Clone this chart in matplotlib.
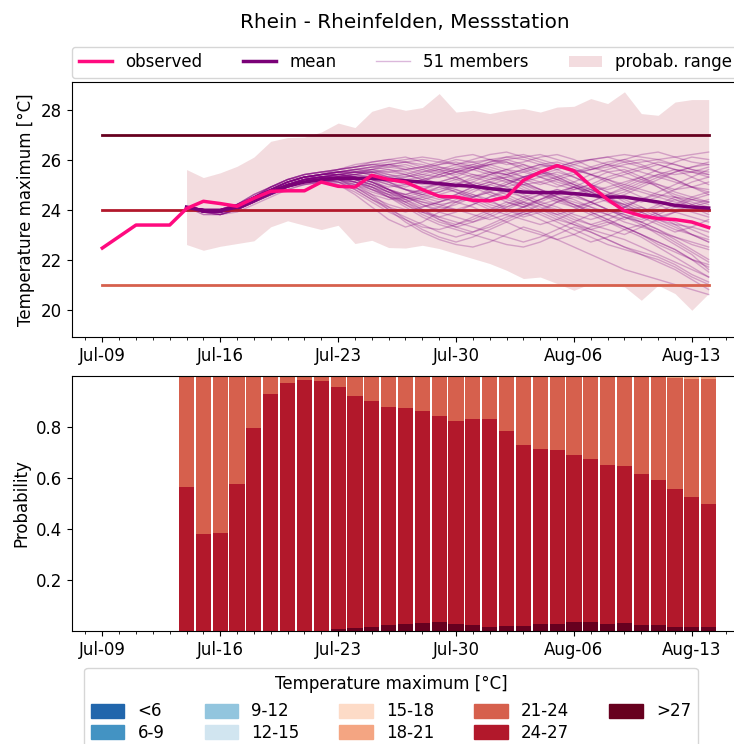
import numpy as np
import matplotlib
matplotlib.use('Agg')
import matplotlib.pyplot as plt
import matplotlib.dates as mdates
from matplotlib.patches import Patch

plt.rcParams['font.size'] = 12

title = 'Rhein - Rheinfelden, Messstation'

obs_start = np.datetime64('2022-07-09')
fc_start = np.datetime64('2022-07-14')

observed = [22.46, 22.92, 23.38, 23.38, 23.38, 24.04, 24.33, 24.24, 24.13, 24.45,
            24.73, 24.75, 24.75, 25.10, 24.93, 24.90, 25.37, 25.20, 25.10, 24.80,
            24.53, 24.50, 24.37, 24.35, 24.50, 25.17, 25.50, 25.76, 25.55, 24.95,
            24.40, 23.95, 23.75, 23.64, 23.60, 23.50, 23.28]

mean = [24.10, 23.95, 23.95, 24.10, 24.40, 24.70, 24.95, 25.10, 25.20, 25.25,
        25.25, 25.25, 25.20, 25.15, 25.10, 25.04, 24.97, 24.93, 24.84, 24.77,
        24.70, 24.68, 24.68, 24.64, 24.57, 24.50, 24.50, 24.40, 24.30, 24.17,
        24.10, 24.06]

range_hi = [25.60, 25.28, 25.47, 25.73, 26.10, 26.73, 26.88, 26.90, 27.10, 27.46,
            27.28, 27.93, 28.13, 27.97, 28.08, 28.64, 27.90, 27.97, 27.84, 27.97,
            28.04, 27.90, 28.10, 28.13, 28.44, 28.24, 28.71, 27.84, 27.77, 28.30,
            28.40, 28.40]
range_lo = [22.60, 22.37, 22.53, 22.64, 22.75, 23.31, 23.55, 23.37, 23.20, 23.37,
            22.64, 22.77, 22.48, 22.46, 22.57, 22.44, 22.24, 22.04, 21.84, 21.57,
            21.24, 21.30, 21.04, 20.77, 21.04, 20.97, 20.91, 20.37, 20.97, 20.64,
            19.97, 20.64]

# 51 ensemble members, Jul-14 .. Aug-14
members_txt = """
24.1 23.9 23.9 24.1 24.5 24.8 25.1 25.3 25.4 25.5 25.6 25.7 25.8 25.9 26.0 25.9 25.8 25.9 26.0 26.1 26.0 25.8 25.7 25.9 26.0 26.1 26.2 26.1 26.0 26.1 26.2 26.3
24.1 24.0 23.9 24.0 24.3 24.7 25.0 25.2 25.3 25.4 25.3 25.2 25.1 24.8 24.6 24.7 25.0 25.3 25.5 25.4 25.1 24.8 24.6 24.9 25.2 25.5 25.6 25.3 24.9 24.5 24.2 24.0
24.1 23.9 23.8 24.0 24.4 24.7 24.9 25.1 25.2 25.0 24.6 24.1 23.6 23.3 23.5 23.9 24.3 24.6 24.4 24.0 23.7 23.9 24.3 24.6 24.8 24.5 24.1 23.8 23.5 23.2 23.0 22.8
24.1 24.0 24.0 24.2 24.5 24.8 25.1 25.3 25.4 25.5 25.5 25.6 25.4 25.2 25.0 25.1 25.3 25.6 25.8 25.9 25.7 25.4 25.2 25.0 24.7 24.4 24.6 24.9 25.2 25.5 25.7 25.9
24.1 23.9 23.9 24.1 24.4 24.6 24.9 25.0 25.1 25.2 25.2 25.0 24.7 24.3 23.9 23.6 23.4 23.6 23.9 24.2 24.5 24.7 24.5 24.2 23.9 23.6 23.3 23.0 22.6 22.3 22.0 21.8
24.1 24.0 24.0 24.2 24.6 24.9 25.2 25.4 25.5 25.6 25.7 25.8 25.7 25.6 25.7 25.9 26.1 26.2 26.0 25.8 25.9 26.1 26.2 26.0 25.7 25.5 25.3 25.1 25.0 24.8 24.9 25.1
24.1 23.8 23.8 24.0 24.3 24.6 24.9 25.1 25.2 25.3 25.1 24.8 24.5 24.4 24.6 24.9 25.1 24.9 24.6 24.3 24.1 24.3 24.6 24.8 25.0 24.7 24.3 24.0 23.7 23.9 24.2 24.4
24.1 24.0 23.9 24.1 24.5 24.8 25.0 25.2 25.3 25.3 25.4 25.5 25.6 25.5 25.3 25.0 24.7 24.5 24.7 25.0 25.3 25.5 25.4 25.1 24.8 24.5 24.2 23.9 23.6 23.4 23.3 23.1
24.1 23.9 23.9 24.1 24.4 24.8 25.1 25.3 25.4 25.4 25.3 25.1 24.9 25.0 25.2 25.4 25.6 25.7 25.5 25.2 24.9 24.6 24.3 24.1 24.3 24.6 24.9 25.2 25.4 25.6 25.5 25.3
24.1 24.0 24.0 24.1 24.4 24.7 25.0 25.2 25.2 25.1 24.8 24.4 24.0 23.7 23.4 23.1 22.9 23.1 23.4 23.7 23.9 23.6 23.3 23.0 22.7 22.9 23.2 23.4 23.1 22.7 22.3 21.9
24.1 23.9 23.9 24.0 24.3 24.6 24.9 25.1 25.3 25.4 25.5 25.4 25.2 25.3 25.5 25.7 25.6 25.4 25.2 25.3 25.5 25.7 25.8 25.6 25.4 25.2 24.9 24.7 24.5 24.3 24.1 24.0
24.1 24.0 23.9 24.1 24.5 24.9 25.2 25.4 25.5 25.5 25.4 25.2 24.8 24.5 24.3 24.1 24.0 24.2 24.5 24.8 25.0 24.8 24.5 24.2 24.0 23.8 23.6 23.9 24.2 24.5 24.3 24.1
24.1 23.9 23.8 23.9 24.2 24.5 24.8 25.0 25.1 25.2 25.1 24.9 24.6 24.2 23.8 23.5 23.3 23.5 23.8 24.1 24.4 24.6 24.8 24.6 24.3 24.0 23.7 23.4 23.0 22.6 22.2 21.6
24.1 24.0 24.0 24.2 24.6 24.9 25.1 25.3 25.4 25.6 25.7 25.9 26.0 26.1 25.9 25.7 25.5 25.6 25.8 26.0 26.1 26.2 26.0 25.8 25.6 25.7 25.9 26.0 25.8 25.6 25.5 25.4
24.1 23.9 23.9 24.1 24.4 24.7 25.0 25.2 25.3 25.3 25.2 25.0 24.7 24.6 24.8 25.0 24.8 24.5 24.2 24.0 23.8 24.0 24.3 24.5 24.3 24.0 23.7 23.5 23.8 24.1 24.4 24.6
24.1 24.0 23.9 24.0 24.3 24.7 25.0 25.2 25.3 25.4 25.5 25.5 25.3 25.1 24.8 24.5 24.3 24.1 23.8 23.5 23.2 23.0 22.8 23.0 23.3 23.5 23.3 23.0 22.7 22.4 22.0 21.5
24.1 23.9 23.9 24.1 24.5 24.8 25.0 25.2 25.3 25.3 25.4 25.6 25.8 25.9 25.8 25.6 25.3 25.0 24.8 25.0 25.3 25.5 25.7 25.9 26.0 25.8 25.5 25.2 24.9 24.6 24.4 24.2
24.1 24.0 24.0 24.2 24.5 24.8 25.1 25.3 25.3 25.2 24.9 24.5 24.2 24.0 23.9 24.1 24.4 24.7 25.0 25.2 25.0 24.7 24.4 24.1 23.8 23.5 23.2 22.9 22.5 22.1 21.7 21.3
24.1 23.9 23.9 24.0 24.3 24.6 24.9 25.1 25.2 25.3 25.3 25.2 25.0 24.8 24.7 24.8 25.0 25.2 25.4 25.6 25.5 25.3 25.1 24.9 24.7 24.9 25.1 25.3 25.0 24.7 24.5 24.3
24.1 24.0 23.9 24.1 24.4 24.8 25.1 25.3 25.4 25.5 25.6 25.7 25.6 25.4 25.2 25.3 25.5 25.7 25.9 26.0 25.8 25.5 25.2 24.9 24.6 24.4 24.2 24.4 24.7 25.0 25.3 25.6
24.1 23.8 23.8 24.0 24.3 24.6 24.8 25.0 25.1 25.0 24.7 24.3 23.9 23.6 23.3 23.2 23.4 23.7 24.0 24.3 24.1 23.8 23.5 23.2 22.9 22.6 22.4 22.2 22.0 21.7 21.3 21.0
24.1 24.0 24.0 24.2 24.5 24.8 25.1 25.2 25.3 25.4 25.4 25.3 25.1 24.9 25.1 25.4 25.6 25.8 26.0 25.9 25.6 25.3 25.0 24.8 25.0 25.3 25.5 25.7 25.9 25.8 25.6 25.5
24.1 23.9 23.9 24.1 24.4 24.7 25.0 25.2 25.2 25.1 24.9 24.6 24.4 24.5 24.7 24.9 24.7 24.4 24.1 23.9 24.1 24.4 24.7 24.9 24.6 24.3 24.0 23.7 23.4 23.1 23.3 23.6
24.1 24.0 23.9 24.1 24.5 24.9 25.2 25.4 25.5 25.6 25.7 25.8 25.9 26.0 26.1 26.0 25.8 25.6 25.4 25.2 25.0 25.1 25.3 25.5 25.7 25.9 26.0 25.8 25.5 25.2 24.9 24.7
24.1 23.9 23.8 24.0 24.3 24.6 24.9 25.1 25.2 25.2 25.1 24.9 24.6 24.3 24.0 23.7 23.5 23.3 23.1 22.9 22.7 22.9 23.2 23.5 23.8 24.0 23.8 23.5 23.2 22.9 22.6 22.4
24.1 24.0 24.0 24.1 24.4 24.7 25.0 25.2 25.3 25.4 25.5 25.6 25.7 25.8 25.6 25.4 25.2 25.0 25.2 25.4 25.6 25.8 25.9 25.7 25.4 25.1 24.8 24.5 24.3 24.1 23.9 23.7
24.1 23.9 23.9 24.1 24.4 24.7 24.9 25.1 25.2 25.3 25.3 25.1 24.8 24.5 24.2 24.0 24.2 24.5 24.8 25.1 25.3 25.5 25.3 25.0 24.7 24.5 24.7 25.0 25.3 25.5 25.7 25.8
24.1 24.0 23.9 24.0 24.3 24.6 24.9 25.1 25.2 25.2 25.0 24.6 24.1 23.6 23.2 22.9 22.7 22.9 23.2 23.5 23.8 24.0 23.7 23.4 23.1 22.8 22.5 22.2 21.9 21.6 21.2 20.8
24.1 23.9 23.9 24.1 24.5 24.8 25.1 25.3 25.4 25.5 25.5 25.4 25.2 25.0 24.9 25.0 25.2 25.4 25.3 25.1 24.8 24.6 24.4 24.6 24.9 25.2 25.4 25.6 25.8 25.6 25.3 25.0
24.1 24.0 24.0 24.2 24.5 24.8 25.0 25.2 25.3 25.3 25.2 25.0 24.8 24.6 24.4 24.2 24.0 23.8 23.6 23.8 24.1 24.4 24.6 24.4 24.1 23.8 23.5 23.3 23.1 22.9 22.7 22.5
24.1 23.9 23.9 24.1 24.5 24.9 25.2 25.4 25.5 25.6 25.7 25.8 25.8 25.7 25.5 25.6 25.8 26.0 26.2 26.3 26.1 25.9 25.7 25.5 25.6 25.8 26.0 26.2 26.3 26.1 25.9 25.8
24.1 24.0 23.9 24.1 24.4 24.7 25.0 25.1 25.2 25.2 25.0 24.7 24.5 24.3 24.5 24.7 24.9 25.1 24.9 24.6 24.3 24.0 23.8 24.0 24.3 24.6 24.4 24.1 23.8 23.5 23.2 22.9
24.1 23.9 23.9 24.0 24.3 24.6 24.9 25.1 25.2 25.3 25.4 25.3 25.1 24.8 24.5 24.3 24.5 24.8 25.0 24.8 24.5 24.2 24.0 23.7 23.4 23.2 23.0 23.3 23.6 23.9 24.1 24.3
24.1 24.0 24.0 24.2 24.6 24.9 25.2 25.3 25.4 25.4 25.3 25.1 24.8 24.4 24.0 23.6 23.3 23.1 23.3 23.6 23.9 24.2 24.4 24.2 23.9 23.6 23.3 23.0 22.7 22.4 22.0 21.7
24.1 23.9 23.9 24.1 24.4 24.8 25.1 25.3 25.4 25.5 25.6 25.5 25.3 25.2 25.3 25.5 25.7 25.8 25.6 25.4 25.2 25.0 25.2 25.4 25.6 25.8 25.7 25.5 25.3 25.1 24.9 24.8
24.1 24.0 23.9 24.1 24.4 24.7 24.9 25.1 25.2 25.2 25.1 24.8 24.5 24.2 23.9 23.7 23.9 24.2 24.5 24.7 24.5 24.2 23.9 23.6 23.4 23.6 23.9 24.1 23.8 23.4 23.0 22.7
24.1 23.9 23.8 24.0 24.4 24.7 25.0 25.2 25.3 25.4 25.4 25.5 25.5 25.6 25.7 25.8 26.0 25.9 25.7 25.5 25.3 25.4 25.6 25.8 26.0 26.1 25.9 25.7 25.5 25.4 25.5 25.7
24.1 24.0 24.0 24.1 24.4 24.8 25.1 25.3 25.4 25.4 25.3 25.2 25.0 24.8 24.6 24.4 24.6 24.9 25.1 25.3 25.1 24.8 24.5 24.3 24.1 23.9 24.1 24.4 24.6 24.4 24.1 23.8
24.1 23.9 23.9 24.1 24.5 24.8 25.0 25.2 25.3 25.3 25.2 24.9 24.5 24.1 23.7 23.4 23.2 23.0 22.8 22.6 22.5 22.7 23.0 23.3 23.1 22.8 22.5 22.3 22.1 21.8 21.4 21.1
24.1 24.0 23.9 24.1 24.4 24.7 25.0 25.2 25.4 25.5 25.6 25.6 25.5 25.4 25.2 25.0 24.9 25.1 25.4 25.6 25.8 25.6 25.3 25.0 24.8 24.6 24.8 25.1 25.4 25.2 24.9 24.6
24.1 23.9 23.9 24.0 24.3 24.6 24.9 25.1 25.1 25.1 25.0 24.8 24.6 24.5 24.4 24.6 24.8 24.6 24.3 24.1 24.3 24.6 24.8 24.6 24.3 24.0 23.8 23.6 23.9 24.2 24.5 24.7
24.1 24.0 24.0 24.2 24.5 24.9 25.2 25.4 25.5 25.6 25.8 25.9 26.0 25.9 25.7 25.5 25.4 25.6 25.9 26.1 26.2 26.0 25.8 25.6 25.4 25.2 25.0 24.8 24.6 24.5 24.4 24.3
24.1 23.9 23.9 24.1 24.4 24.7 25.0 25.2 25.3 25.3 25.1 24.9 24.7 24.5 24.3 24.2 24.3 24.5 24.7 24.5 24.2 23.9 23.6 23.4 23.2 23.0 22.8 22.5 22.2 21.9 21.6 21.3
24.1 24.0 23.9 24.0 24.3 24.7 25.0 25.2 25.3 25.4 25.5 25.5 25.4 25.3 25.4 25.6 25.5 25.3 25.1 24.9 25.1 25.3 25.5 25.3 25.0 24.7 24.5 24.3 24.5 24.8 25.1 25.3
24.1 23.9 23.9 24.1 24.4 24.7 25.0 25.1 25.2 25.1 24.8 24.4 24.1 23.9 24.1 24.3 24.5 24.3 24.0 23.8 23.6 23.4 23.6 23.9 24.2 24.4 24.2 23.9 23.6 23.3 23.0 22.7
24.1 24.0 24.0 24.2 24.5 24.8 25.1 25.3 25.4 25.5 25.6 25.7 25.8 25.6 25.4 25.3 25.5 25.7 25.8 25.6 25.3 25.1 24.9 25.1 25.4 25.6 25.8 25.9 26.0 25.8 25.6 25.4
24.1 23.9 23.8 24.0 24.3 24.6 24.9 25.1 25.2 25.3 25.3 25.1 24.8 24.6 24.8 25.1 25.3 25.0 24.7 24.4 24.2 24.4 24.7 24.9 24.7 24.4 24.1 23.9 24.1 24.4 24.2 23.9
24.1 24.0 23.9 24.1 24.5 24.8 25.1 25.3 25.4 25.4 25.3 25.1 24.8 24.5 24.2 23.9 23.7 23.5 23.7 24.0 24.3 24.1 23.8 23.5 23.2 23.4 23.7 23.5 23.2 22.8 22.4 22.0
24.1 23.9 23.9 24.1 24.4 24.8 25.1 25.3 25.4 25.5 25.5 25.4 25.3 25.4 25.6 25.8 25.9 25.7 25.5 25.4 25.6 25.8 25.6 25.3 25.0 24.8 25.0 25.3 25.6 25.9 26.1 26.0
24.1 24.0 24.0 24.1 24.4 24.7 25.0 25.2 25.3 25.3 25.2 25.0 24.7 24.4 24.1 24.3 24.6 24.9 25.1 24.9 24.6 24.3 24.1 23.8 23.6 23.8 24.1 24.4 24.2 23.9 23.7 23.5
24.1 23.9 23.9 24.1 24.5 24.8 25.1 25.3 25.3 25.2 24.9 24.5 24.0 23.5 23.1 22.8 22.6 22.5 22.7 23.0 23.3 23.1 22.8 22.5 22.2 21.9 21.6 21.4 21.2 21.0 20.8 20.6
"""
members = [list(map(float, row.split())) for row in members_txt.strip().splitlines()]

# class probabilities per forecast day (Jul-14 .. Aug-14)
p_gt27 = [0.0, 0.0, 0.0, 0.0, 0.0, 0.0, 0.0, 0.0, 0.0, 0.008, 0.012, 0.016, 0.022, 0.026,
          0.031, 0.035, 0.027, 0.022, 0.016, 0.02, 0.02, 0.026, 0.029, 0.035, 0.035,
          0.027, 0.03, 0.025, 0.022, 0.017, 0.017, 0.016]
p_24_27_cum = [0.566, 0.382, 0.384, 0.576, 0.797, 0.93, 0.974, 0.983, 0.982, 0.958,
               0.92, 0.902, 0.88, 0.873, 0.863, 0.843, 0.824, 0.831, 0.83, 0.783,
               0.728, 0.714, 0.71, 0.692, 0.675, 0.652, 0.647, 0.617, 0.592, 0.557,
               0.525, 0.498]
p_18_21 = [0.0] * 29 + [0.008, 0.01, 0.01]

classes = ['<6', '6-9', '9-12', '12-15', '15-18', '18-21', '21-24', '24-27', '>27']
class_colors = ['#2166ac', '#4393c3', '#92c5de', '#d1e5f0', '#fddbc7',
                '#f4a582', '#d6604d', '#b2182b', '#67001f']
thresholds = [21, 24, 27]
threshold_colors = ['#d6604d', '#b2182b', '#67001f']

obs_dates = obs_start + np.arange(len(observed))
fc_dates = fc_start + np.arange(len(mean))

p_24_27 = [c - g for c, g in zip(p_24_27_cum, p_gt27)]
p_21_24 = [1.0 - c - s for c, s in zip(p_24_27_cum, p_18_21)]
zeros = [0.0] * len(mean)
probs = {'<6': zeros, '6-9': zeros, '9-12': zeros, '12-15': zeros, '15-18': zeros,
         '18-21': p_18_21, '21-24': p_21_24, '24-27': p_24_27, '>27': p_gt27}

fig = plt.figure(figsize=(7.34, 7.44), dpi=100)
ax1 = fig.add_axes([0.0981, 0.547, 0.9087, 0.3427])
ax2 = fig.add_axes([0.0981, 0.1519, 0.9087, 0.3427])

# top panel
ax1.fill_between(fc_dates, range_lo, range_hi, color='#b2182b', alpha=0.15, lw=0,
                 label='probab. range')
for i, m in enumerate(members):
    ax1.plot(fc_dates, m, color='purple', alpha=0.28, lw=1,
             label='51 members' if i == 0 else None)
for t, c in zip(thresholds, threshold_colors):
    ax1.plot([obs_dates[0], fc_dates[-1]], [t, t], color=c, lw=2)
ax1.plot(fc_dates, mean, color='#7a0177', lw=2.5, label='mean')
ax1.plot(obs_dates, observed, color='#ff0a7f', lw=2.5, label='observed')
ax1.set_ylim(18.9, 29.1)
ax1.set_yticks([20, 22, 24, 26, 28])
ax1.set_ylabel('Temperature maximum [°C]')

h, l = ax1.get_legend_handles_labels()
order = [l.index(k) for k in ['observed', 'mean', '51 members', 'probab. range']]
ax1.legend([h[i] for i in order], [l[i] for i in order], loc='lower center',
           bbox_to_anchor=(0.5, 1.0), ncol=4, borderaxespad=0.25, columnspacing=2.4)

# bottom panel
bottom = np.zeros(len(mean))
for cls in classes[::-1]:
    vals = np.array(probs[cls])
    ax2.bar(fc_dates, vals, width=0.9, bottom=bottom,
            color=class_colors[classes.index(cls)], lw=0)
    bottom += vals
ax2.set_ylim(0, 1.0)
ax2.set_yticks([0.2, 0.4, 0.6, 0.8])
ax2.set_ylabel('Probability')
ax2.set_xlim(ax1.get_xlim())

for ax in (ax1, ax2):
    ax.xaxis.set_major_locator(mdates.WeekdayLocator(byweekday=mdates.SA))
    ax.xaxis.set_minor_locator(mdates.DayLocator())
    ax.xaxis.set_major_formatter(mdates.DateFormatter('%b-%d'))

handles = [Patch(color=c) for c in class_colors]
leg = fig.legend(handles, classes, loc='upper center',
                 bbox_to_anchor=(391 / 734, 1 - 668 / 744), borderaxespad=0,
                 ncol=5, labelspacing=0.2, columnspacing=2.4, handleheight=0.9,
                 title='Temperature maximum [°C]', title_fontsize=12)
leg._legend_box.sep = 7  # a bit more room under the title

fig.suptitle(title, x=405 / 734, y=0.970, va='center', fontsize=14.4)

fig.savefig('out.png', dpi=100)
